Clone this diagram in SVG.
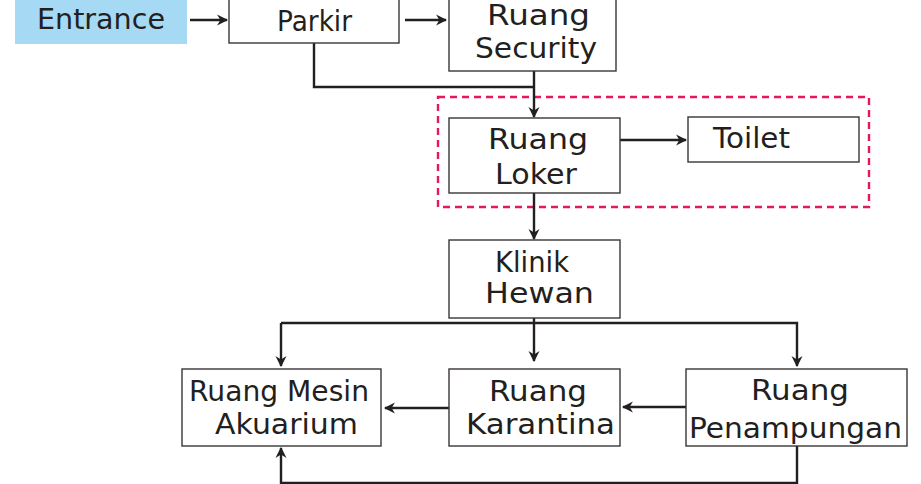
<svg xmlns="http://www.w3.org/2000/svg" width="921" height="484" viewBox="0 0 921 484">
<style>
.box{fill:#fff;stroke:#3a3536;stroke-width:1.4}
.t{font-family:"DejaVu Sans",sans-serif;font-size:29px;fill:#231f20}
.c{fill:none;stroke:#231f20;stroke-width:2.4}
.dash{fill:none;stroke:#e5195a;stroke-width:2.4;stroke-dasharray:7 5}
</style>
<defs>
<marker id="ah" viewBox="0 0 10 10" refX="9" refY="5" markerWidth="4.6" markerHeight="4.6" orient="auto" markerUnits="strokeWidth">
<path d="M0,0 L10,5 L0,10 L3,5 Z" fill="#231f20"/>
</marker>
</defs>
<rect class="dash" x="438" y="97" width="431" height="110"/>
<g id="connectors">
<path class="c" d="M190,20 H227" marker-end="url(#ah)"/>
<path class="c" d="M405,20 H446" marker-end="url(#ah)"/>
<path class="c" d="M314,43 V87 H534"/>
<path class="c" d="M534,71 V117" marker-end="url(#ah)"/>
<path class="c" d="M620,140 H686" marker-end="url(#ah)"/>
<path class="c" d="M534,193 V239" marker-end="url(#ah)"/>
<path class="c" d="M534,318 V361" marker-end="url(#ah)"/>
<path class="c" d="M281,323 H797 V366" marker-end="url(#ah)"/>
<path class="c" d="M281,323 V366" marker-end="url(#ah)"/>
<path class="c" d="M449,408 H385" marker-end="url(#ah)"/>
<path class="c" d="M686,407 H623" marker-end="url(#ah)"/>
<path class="c" d="M797,446 V483 H281 V448" marker-end="url(#ah)"/>
</g>
<g id="entrance">
<rect x="15" y="-2" width="172" height="46" fill="#a6d9f4"/>
<text class="t" x="37" y="29" textLength="128" lengthAdjust="spacingAndGlyphs">Entrance</text>
</g>
<g id="parkir">
<rect class="box" x="229" y="-2" width="170" height="45"/>
<text class="t" x="277" y="31" font-size="26" textLength="75" lengthAdjust="spacingAndGlyphs">Parkir</text>
</g>
<g id="security">
<rect class="box" x="449" y="-2" width="167" height="73"/>
<text class="t" x="487" y="25" textLength="103" lengthAdjust="spacingAndGlyphs">Ruang</text>
<text class="t" x="475" y="58" textLength="122" lengthAdjust="spacingAndGlyphs">Security</text>
</g>
<g id="loker">
<rect class="box" x="449" y="118" width="171" height="75"/>
<text class="t" x="488" y="149" textLength="100" lengthAdjust="spacingAndGlyphs">Ruang</text>
<text class="t" x="495" y="184" textLength="82" lengthAdjust="spacingAndGlyphs">Loker</text>
</g>
<g id="toilet">
<rect class="box" x="688" y="117" width="171" height="45"/>
<text class="t" x="713" y="148" textLength="77" lengthAdjust="spacingAndGlyphs">Toilet</text>
</g>
<g id="klinik">
<rect class="box" x="449" y="240" width="171" height="78"/>
<text class="t" x="495" y="272" textLength="74" lengthAdjust="spacingAndGlyphs">Klinik</text>
<text class="t" x="485" y="303" textLength="109" lengthAdjust="spacingAndGlyphs">Hewan</text>
</g>
<g id="mesin">
<rect class="box" x="182" y="369" width="199" height="77"/>
<text class="t" x="189" y="401" textLength="180" lengthAdjust="spacingAndGlyphs">Ruang Mesin</text>
<text class="t" x="215" y="434" textLength="143" lengthAdjust="spacingAndGlyphs">Akuarium</text>
</g>
<g id="karantina">
<rect class="box" x="449" y="369" width="171" height="77"/>
<text class="t" x="489" y="401" textLength="98" lengthAdjust="spacingAndGlyphs">Ruang</text>
<text class="t" x="466" y="434" textLength="149" lengthAdjust="spacingAndGlyphs">Karantina</text>
</g>
<g id="penampungan">
<rect class="box" x="686" y="369" width="221" height="77"/>
<text class="t" x="751" y="400" textLength="98" lengthAdjust="spacingAndGlyphs">Ruang</text>
<text class="t" x="689" y="438" textLength="213" lengthAdjust="spacingAndGlyphs">Penampungan</text>
</g>
</svg>
